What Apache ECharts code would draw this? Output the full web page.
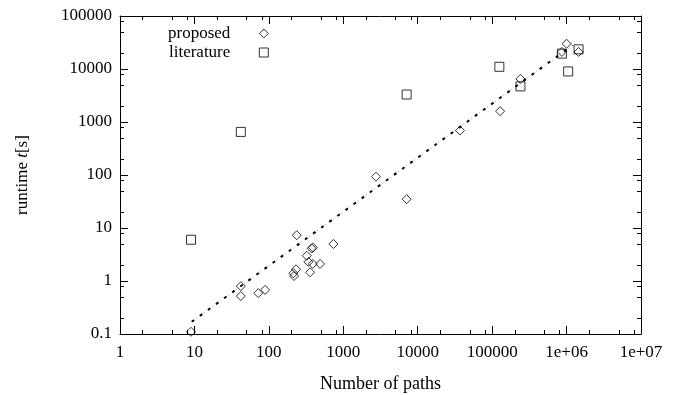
<!DOCTYPE html>
<html>
<head>
<meta charset="UTF-8" />
<title>Runtime vs number of paths</title>
<style>
	html, body { margin: 0; padding: 0; background: #fff; }
	#chart { width: 681px; height: 395px; }
</style>
<script type="text/javascript" src="https://cdn.jsdelivr.net/npm/echarts@6/dist/echarts.min.js"></script>
</head>
<body>
<div id="chart"></div>
<script>
	// points: [number of paths, runtime in s]
	var proposed = [
		[9, 0.11], [42, 0.8], [42, 0.52], [72, 0.59], [89, 0.68],
		[214, 1.4], [218, 1.24], [232, 1.66], [237, 7.3], [323, 3.0],
		[340, 2.3], [358, 1.46], [377, 4.1], [389, 4.3], [389, 2.1],
		[488, 2.1], [736, 5.0], [2750, 93], [7100, 35], [37000, 690],
		[128000, 1600], [240000, 6500], [865000, 21000], [1.0e6, 30000], [1.45e6, 21000]
	];
	var literature = [
		[9, 6], [42, 650], [7100, 3300], [125000, 11000], [240000, 4700],
		[865000, 19500], [1.05e6, 9000], [1.45e6, 23500]
	];
	var fitLine = [[9.2, 0.17], [1.2e6, 28000]];

	var xTickValues = [1, 10, 100, 1000, 10000, 100000, 1e6, 1e7];
	var xTickLabels = ['1', '10', '100', '1000', '10000', '100000', '1e+06', '1e+07'];
	var yTickValues = [0.1, 1, 10, 100, 1000, 10000, 100000];
	var yTickLabels = ['0.1', '1', '10', '100', '1000', '10000', '100000'];
	var xMinorTicks = [2, 5, 8, 20, 50, 80, 200, 500, 800, 2000, 5000, 8000,
		20000, 50000, 80000, 2e5, 5e5, 8e5, 2e6, 5e6, 8e6];
	var yMinorTicks = [0.2, 0.5, 0.8, 2, 5, 8, 20, 50, 80, 200, 500, 800,
		2000, 5000, 8000, 20000, 50000, 80000];

	var X_MIN = 1, X_MAX = 1e7, Y_MIN = 0.1, Y_MAX = 100000;
	var FONT = 'Liberation Serif';

	function tickLabel(values, labels) {
		return function (v) {
			var e = Math.round(Math.log10(v));
			for (var i = 0; i < values.length; i++) {
				if (Math.round(Math.log10(values[i])) === e) return labels[i];
			}
			return '';
		};
	}

	function crisp(v) { return Math.round(v) + 0.5; }

	// minor ticks, inside, on both opposite sides
	function xMinorItem(params, api) {
		var b = api.coord([api.value(0), Y_MIN]);
		var t = api.coord([api.value(0), Y_MAX]);
		var x = crisp(b[0]);
		var st = { stroke: '#000', lineWidth: 1 };
		return { type: 'group', children: [
			{ type: 'line', shape: { x1: x, y1: b[1], x2: x, y2: b[1] - 4 }, style: st },
			{ type: 'line', shape: { x1: x, y1: t[1], x2: x, y2: t[1] + 4 }, style: st }
		] };
	}
	function yMinorItem(params, api) {
		var l = api.coord([X_MIN, api.value(1)]);
		var r = api.coord([X_MAX, api.value(1)]);
		var y = crisp(l[1]);
		var st = { stroke: '#000', lineWidth: 1 };
		return { type: 'group', children: [
			{ type: 'line', shape: { x1: l[0], y1: y, x2: l[0] + 4, y2: y }, style: st },
			{ type: 'line', shape: { x1: r[0], y1: y, x2: r[0] - 4, y2: y }, style: st }
		] };
	}

	var axisBase = {
		type: 'log',
		logBase: 10,
		axisLine: { lineStyle: { color: '#000', width: 1 } },
		axisTick: { inside: true, length: 8, lineStyle: { color: '#000' } },
		splitLine: { show: false },
		minorTick: { show: false }
	};

	var labelStyle = { fontFamily: FONT, fontSize: 17, color: '#000' };
	var hollow = { color: 'rgba(0,0,0,0)', borderColor: '#000', borderWidth: 1 };

	var myChart = echarts.init(document.getElementById('chart'));
	myChart.setOption({
		animation: false,
		backgroundColor: '#fff',
		grid: { left: 120, right: 40, top: 16, bottom: 61, outerBoundsMode: 'none', containLabel: false },
		legend: {
			data: ['proposed', 'literature'],
			orient: 'vertical',
			left: 163,
			top: 20,
			align: 'right',
			itemWidth: 9,
			itemHeight: 9,
			itemGap: 2,
			symbolKeepAspect: true,
			itemStyle: hollow,
			textStyle: { fontFamily: FONT, fontSize: 17, color: '#000', padding: [0, 24, 0, 0] }
		},
		xAxis: [
			Object.assign({}, axisBase, {
				min: X_MIN, max: X_MAX, splitNumber: 7, position: 'bottom',
				axisLabel: Object.assign({ margin: 10, formatter: tickLabel(xTickValues, xTickLabels) }, labelStyle),
				name: 'Number of paths', nameLocation: 'middle', nameGap: 41,
				nameTextStyle: { fontFamily: FONT, fontSize: 18, color: '#000' }
			}),
			Object.assign({}, axisBase, {
				min: X_MIN, max: X_MAX, splitNumber: 7, position: 'top',
				axisLabel: { show: false }
			})
		],
		yAxis: [
			Object.assign({}, axisBase, {
				min: Y_MIN, max: Y_MAX, splitNumber: 6, position: 'left',
				axisLabel: Object.assign({ margin: 8, formatter: tickLabel(yTickValues, yTickLabels) }, labelStyle),
				name: 'runtime {i|t}[s]', nameLocation: 'middle', nameGap: 89,
				nameTextStyle: Object.assign({ rich: { i: { fontFamily: FONT, fontSize: 17, fontStyle: 'italic', color: '#000' } } }, labelStyle)
			}),
			Object.assign({}, axisBase, {
				min: Y_MIN, max: Y_MAX, splitNumber: 6, position: 'right',
				axisLabel: { show: false }
			})
		],
		series: [
			{
				name: 'fit', type: 'line', data: fitLine, showSymbol: false, silent: true,
				lineStyle: { color: '#000', width: 2, type: [3, 7] }, z: 2
			},
			{
				name: 'fitDots', type: 'line', data: fitLine, showSymbol: false, silent: true,
				lineStyle: { color: '#999', width: 1, type: [1, 9], dashOffset: -5 }, z: 2
			},
			{
				name: 'proposed', type: 'scatter', data: proposed, symbol: 'diamond', symbolSize: [9, 9],
				itemStyle: hollow, z: 3
			},
			{
				name: 'literature', type: 'scatter', data: literature, symbol: 'rect', symbolSize: [9, 9],
				itemStyle: hollow, z: 3
			},
			{
				name: 'xMinor', type: 'custom', renderItem: xMinorItem, silent: true,
				data: xMinorTicks.map(function (v) { return [v, Y_MIN]; }), clip: false
			},
			{
				name: 'yMinor', type: 'custom', renderItem: yMinorItem, silent: true,
				data: yMinorTicks.map(function (v) { return [X_MIN, v]; }), clip: false
			}
		]
	});
</script>
</body>
</html>
